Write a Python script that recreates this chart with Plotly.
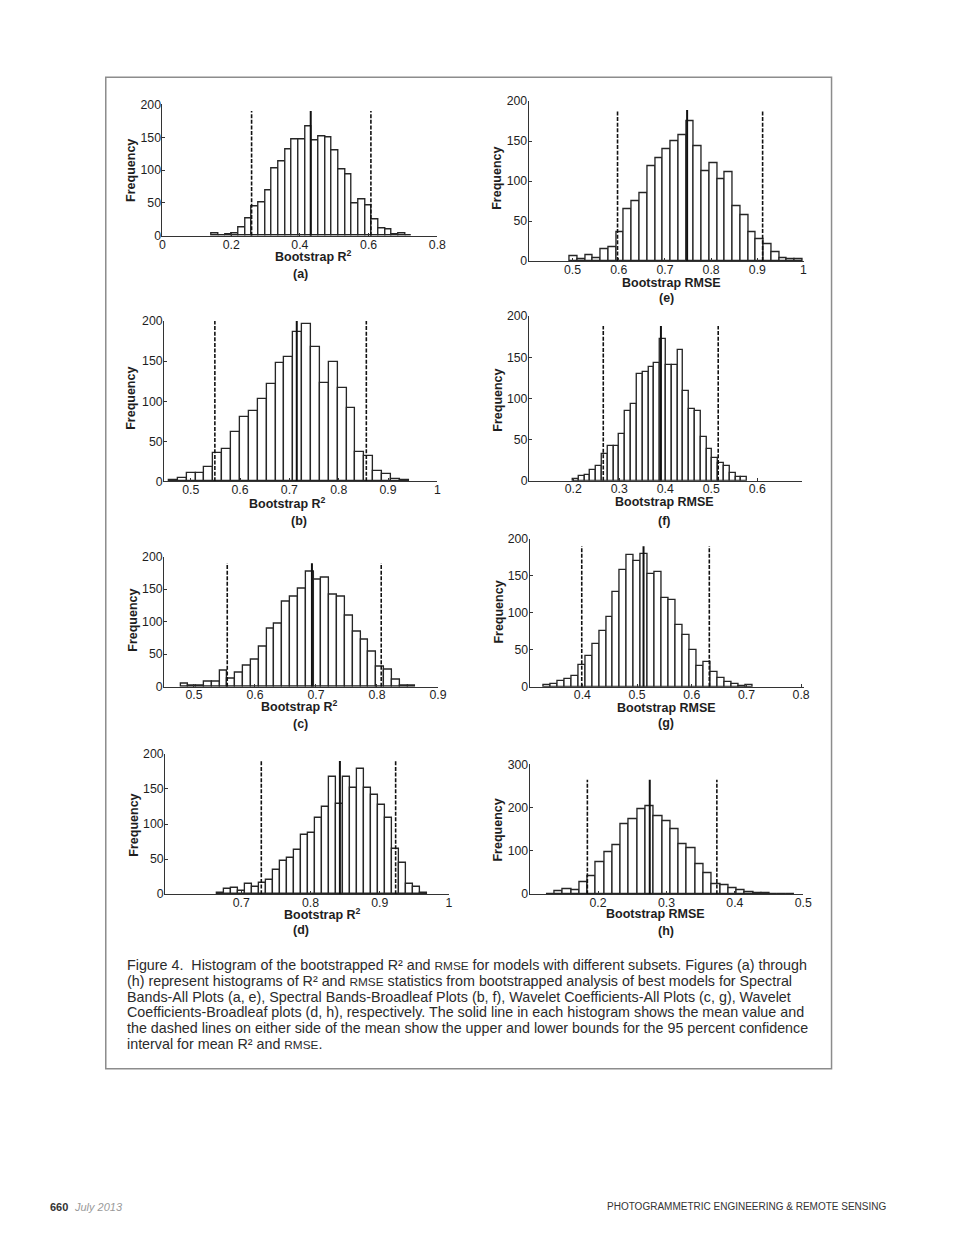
import plotly.graph_objects as go

W, H = 944, 1229
# measured mapping from figure pixels to the photographed page: page = S * fig + T
SX, SY = 0.9876, 0.989
TX, TY = 10.2, 14.8

# ---------------- data ----------------
a_start, a_width = 0.1434, 0.0194
a_counts = [3, 1, 2, 4, 13, 27, 45, 51, 69, 103, 113, 132, 147, 147, 166, 145, 151, 149, 130, 101, 94, 50, 56, 46, 25, 11, 9, 2, 3, 1]
a_stats = [0.2594, 0.4315, 0.6066]   # lower CI, mean, upper CI

e_start, e_width = 0.4942, 0.01678
e_counts = [6, 2, 7, 4, 15, 17, 36, 65, 75, 85, 119, 129, 140, 150, 157, 175, 144, 112, 123, 103, 111, 69, 57, 36, 27, 21, 11, 4, 2, 2]
e_stats = [0.5974, 0.748, 0.9114]

b_start, b_width = 0.456, 0.018
b_counts = [2, 4, 10, 10, 18, 35, 40, 61, 80, 88, 103, 121, 148, 155, 186, 196, 168, 123, 149, 117, 92, 36, 31, 13, 9, 3, 1]
b_stats = [0.549, 0.715, 0.856]

f_start, f_width = 0.1993, 0.01263
f_counts = [2, 6, 7, 13, 18, 32, 42, 42, 57, 84, 93, 130, 132, 138, 143, 172, 140, 140, 159, 109, 87, 85, 53, 38, 28, 22, 18, 9, 5, 4]
f_stats = [0.2652, 0.3906, 0.5152]

c_start, c_width = 0.4781, 0.01283
c_counts = [5, 2, 1, 8, 8, 24, 13, 22, 32, 42, 61, 89, 97, 130, 139, 151, 177, 164, 167, 141, 139, 109, 84, 72, 54, 30, 26, 10, 1, 2]
c_stats = [0.5546, 0.6934, 0.807]

g_start, g_width = 0.3285, 0.01277
g_counts = [2, 4, 8, 11, 14, 29, 41, 58, 76, 94, 128, 158, 179, 170, 180, 152, 155, 120, 117, 83, 70, 50, 28, 34, 20, 12, 6, 3, 1, 2]
g_stats = [0.3988, 0.5118, 0.6321]

d_start, d_width = 0.6647, 0.01014
d_counts = [2, 7, 9, 5, 14, 10, 16, 21, 35, 47, 51, 63, 85, 87, 109, 124, 167, 129, 167, 152, 178, 152, 142, 127, 109, 64, 45, 15, 11, 2]
d_stats = [0.729, 0.8425, 0.923]

h_start, h_width = 0.1244, 0.0121
h_counts = [1, 6, 11, 9, 27, 41, 73, 97, 113, 161, 172, 195, 203, 181, 169, 150, 116, 105, 68, 49, 24, 20, 13, 8, 4, 2, 3, 1, 1, 1]
h_stats = [0.1844, 0.2756, 0.3737]

line_tops = {"a": 190, "e": 189, "b": 200, "f": 188, "c": 190, "g": 190, "d": 190, "h": 264}

x_ranges = {"a": [0, 0.8], "e": [0.405, 1.0], "b": [0.446, 1.0], "f": [0.1035, 0.698],
            "c": [0.451, 0.9], "g": [0.3035, 0.805], "d": [0.59, 1.0], "h": [0.1, 0.5]}
x_ticks = {"a": [0, 0.2, 0.4, 0.6, 0.8], "e": [0.5, 0.6, 0.7, 0.8, 0.9, 1.0],
           "b": [0.5, 0.6, 0.7, 0.8, 0.9, 1.0], "f": [0.2, 0.3, 0.4, 0.5, 0.6],
           "c": [0.5, 0.6, 0.7, 0.8, 0.9], "g": [0.4, 0.5, 0.6, 0.7, 0.8],
           "d": [0.7, 0.8, 0.9, 1.0], "h": [0.2, 0.3, 0.4, 0.5]}
y_ranges = {"a": [0, 200], "e": [0, 200], "b": [0, 200], "f": [0, 200],
            "c": [0, 200], "g": [0, 200], "d": [0, 200], "h": [0, 300]}
y_ticks = {"a": [0, 50, 100, 150, 200], "h": [0, 100, 200, 300]}

x_titles = {"a": "Bootstrap R<sup>2</sup>", "b": "Bootstrap R<sup>2</sup>",
            "c": "Bootstrap R<sup>2</sup>", "d": "Bootstrap R<sup>2</sup>",
            "e": "Bootstrap RMSE", "f": "Bootstrap RMSE",
            "g": "Bootstrap RMSE", "h": "Bootstrap RMSE"}

SC = "<span style='font-size:11.8px'>RMSE</span>"
caption_lines = [
    "Figure 4.  Histogram of the bootstrapped R² and " + SC + " for models with different subsets. Figures (a) through",
    "(h) represent histograms of R² and " + SC + " statistics from bootstrapped analysis of best models for Spectral",
    "Bands-All Plots (a, e), Spectral Bands-Broadleaf Plots (b, f), Wavelet Coefficients-All Plots (c, g), Wavelet",
    "Coefficients-Broadleaf plots (d, h), respectively. The solid line in each histogram shows the mean value and",
    "the dashed lines on either side of the mean show the upper and lower bounds for the 95 percent confidence",
    "interval for mean R² and " + SC + ".",
]

panels = {
    "a": (a_start, a_width, a_counts, a_stats),
    "e": (e_start, e_width, e_counts, e_stats),
    "b": (b_start, b_width, b_counts, b_stats),
    "f": (f_start, f_width, f_counts, f_stats),
    "c": (c_start, c_width, c_counts, c_stats),
    "g": (g_start, g_width, g_counts, g_stats),
    "d": (d_start, d_width, d_counts, d_stats),
    "h": (h_start, h_width, h_counts, h_stats),
}

# ---------------- layout geometry (pixels on the reference page) ----------------
boxes = {  # x0, x1, ytop, ybottom
    "a": (161.7, 436.7, 104.3, 235.7),
    "e": (528.0, 803.0, 101.0, 261.0),
    "b": (163.3, 436.7, 321.0, 481.3),
    "f": (528.3, 801.7, 316.0, 480.7),
    "c": (163.3, 437.3, 556.7, 686.7),
    "g": (529.0, 803.3, 539.0, 686.7),
    "d": (164.3, 448.3, 754.0, 894.3),
    "h": (529.0, 802.7, 764.3, 894.3),
}
freq_pos = {"a": (130, 170), "e": (496, 178), "b": (130, 398), "f": (497, 400),
            "c": (132, 620), "g": (498, 612), "d": (133, 825), "h": (497, 830)}
xtitle_pos = {"a": (313, 255.5), "e": (671, 283), "b": (287, 503), "f": (664, 502),
              "c": (299, 706.5), "g": (666, 708), "d": (322, 914.5), "h": (655, 914.5)}
label_pos = {"a": (300, 274), "e": (666, 298), "b": (298, 521), "f": (664, 521),
             "c": (300, 724), "g": (665, 723), "d": (300, 930), "h": (665, 931)}


def px(x):
    return ((x - TX) / SX) / W


def py(y):
    return 1 - ((y - TY) / SY) / H


FONT = "Liberation Sans, Arial, Helvetica, sans-serif"
INK = "#1e1e1e"

fig = go.Figure()
annotations = []
shapes = []

for i, key in enumerate(["a", "e", "b", "f", "c", "g", "d", "h"]):
    idx = "" if i == 0 else str(i + 1)
    xa, ya = "x" + idx, "y" + idx
    start, width, counts, stats = panels[key]
    centers = [start + width * (k + 0.5) for k in range(len(counts))]
    fig.add_trace(go.Bar(x=centers, y=counts, width=width, xaxis=xa, yaxis=ya,
                         marker=dict(color="white", line=dict(color="#262626", width=1.35)),
                         showlegend=False, hoverinfo="skip"))
    top = line_tops[key]
    lo, mean, hi = stats
    for val, dash, lw in [(lo, "4px,1.6px", 1.6), (hi, "4px,1.6px", 1.6), (mean, "solid", 2.0)]:
        fig.add_trace(go.Scatter(x=[val, val], y=[0, top], mode="lines", xaxis=xa, yaxis=ya,
                                 line=dict(color="#111", width=lw, dash=dash),
                                 showlegend=False, hoverinfo="skip"))
    x0, x1, yt, yb = boxes[key]
    yt_vals = y_ticks.get(key, [0, 50, 100, 150, 200])
    fig.layout["xaxis" + idx] = dict(
        domain=[px(x0), px(x1)], anchor=ya, range=x_ranges[key],
        tickvals=x_ticks[key], ticktext=[("%g" % v) for v in x_ticks[key]],
        showline=True, linecolor="#333", linewidth=1, ticks="inside", ticklen=3,
        tickcolor="#333", showgrid=False, zeroline=False, ticklabelstandoff=-3,
        tickfont=dict(family=FONT, size=12.3, color=INK), fixedrange=True)
    fig.layout["yaxis" + idx] = dict(
        domain=[py(yb), py(yt)], anchor=xa, range=y_ranges[key],
        tickvals=yt_vals, showline=True, linecolor="#333", linewidth=1,
        ticks="inside", ticklen=3, tickcolor="#333", showgrid=False, zeroline=False,
        ticklabelstandoff=-2,
        tickfont=dict(family=FONT, size=12.3, color=INK), fixedrange=True)

    fx, fy = freq_pos[key]
    annotations.append(dict(x=px(fx), y=py(fy), xref="paper", yref="paper", text="<b>Frequency</b>",
                            textangle=-90, showarrow=False, xanchor="center", yanchor="middle",
                            font=dict(family=FONT, size=12.5, color=INK)))
    tx, ty = xtitle_pos[key]
    annotations.append(dict(x=px(tx), y=py(ty), xref="paper", yref="paper", text="<b>" + x_titles[key] + "</b>",
                            showarrow=False, xanchor="center", yanchor="middle",
                            font=dict(family=FONT, size=12.5, color=INK)))
    lx, ly = label_pos[key]
    annotations.append(dict(x=px(lx), y=py(ly), xref="paper", yref="paper", text="<b>(" + key + ")</b>",
                            showarrow=False, xanchor="center", yanchor="middle",
                            font=dict(family=FONT, size=12.5, color=INK)))

# caption
cap_y = [965, 981, 997, 1012.5, 1028.5, 1044]
for line, yy in zip(caption_lines, cap_y):
    annotations.append(dict(x=px(124), y=py(yy), xref="paper", yref="paper", text=line,
                            showarrow=False, xanchor="left", yanchor="middle",
                            font=dict(family=FONT, size=14.3, color="#2b2b2b")))

# footer
annotations.append(dict(x=px(47), y=py(1207), xref="paper", yref="paper", text="<b>660</b>",
                        showarrow=False, xanchor="left", yanchor="middle",
                        font=dict(family=FONT, size=11, color="#333")))
annotations.append(dict(x=px(71), y=py(1207), xref="paper", yref="paper", text="<i>July 2013</i>",
                        showarrow=False, xanchor="left", yanchor="middle",
                        font=dict(family=FONT, size=11, color="#999")))
annotations.append(dict(x=px(888), y=py(1207), xref="paper", yref="paper",
                        text="PHOTOGRAMMETRIC ENGINEERING &amp; REMOTE SENSING",
                        showarrow=False, xanchor="right", yanchor="middle",
                        font=dict(family=FONT, size=10, color="#333")))

# figure frame
shapes.append(dict(type="rect", xref="paper", yref="paper", x0=px(105), x1=px(831), y0=py(1069), y1=py(77),
                   line=dict(color="#8c8c8c", width=1.5), fillcolor="rgba(0,0,0,0)"))

fig.update_layout(width=W, height=H, margin=dict(l=0, r=0, t=0, b=0),
                  paper_bgcolor="white", plot_bgcolor="white", bargap=0,
                  annotations=annotations, shapes=shapes, showlegend=False,
                  font=dict(family=FONT, color=INK))

fig.write_html("out.html")
